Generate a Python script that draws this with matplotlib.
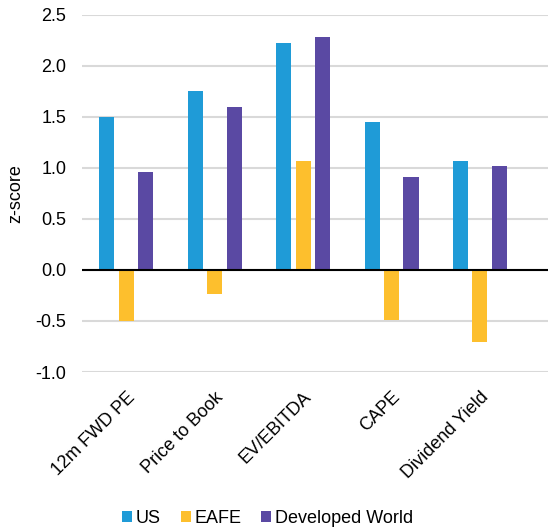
import matplotlib.pyplot as plt
import numpy as np

plt.rcParams['font.family'] = ['Liberation Sans', 'DejaVu Sans']

categories = ["12m FWD PE", "Price to Book", "EV/EBITDA", "CAPE", "Dividend Yield"]
us = [1.50, 1.75, 2.22, 1.45, 1.07]
eafe = [-0.50, -0.24, 1.07, -0.49, -0.71]
dev_world = [0.96, 1.60, 2.28, 0.91, 1.02]

series = [("US", us, "#1f9bd7"),
          ("EAFE", eafe, "#fdbf2d"),
          ("Developed World", dev_world, "#5a49a3")]

fig = plt.figure(figsize=(5.48, 5.31), dpi=100)
ax = fig.add_axes([0.150, 0.2994, 0.85, 0.6726])

x = np.arange(len(categories))
width = 0.17
step = 0.22
for i, (name, vals, color) in enumerate(series):
    ax.bar(x + (i - 1) * step, vals, width, color=color, label=name, zorder=3)

ax.set_ylim(-1.0, 2.5)
ax.set_xlim(-0.5, 4.77)
ax.set_yticks(np.arange(-1.0, 2.51, 0.5))
ax.set_yticklabels([f"{v:.1f}" for v in np.arange(-1.0, 2.51, 0.5)], fontsize=13)
ax.yaxis.grid(True, color="#d9d9d9", linewidth=1.5, zorder=0)
ax.axhline(0, color="black", linewidth=1.5, zorder=4)
ax.tick_params(axis="both", length=0)
ax.tick_params(axis="y", pad=11.5)
for s in ax.spines.values():
    s.set_visible(False)

ax.set_xticks(x)
ax.set_xticklabels(categories, rotation=45, ha="right", rotation_mode="anchor", fontsize=13)
ax.tick_params(axis="x", pad=12)
ax.set_ylabel("z-score", fontsize=13, labelpad=8)

ax.legend(loc="center", bbox_to_anchor=(0.398, -0.41), ncol=3, frameon=False,
          fontsize=13, handlelength=0.55, handleheight=0.55, handletextpad=0.2,
          columnspacing=1.1)

fig.savefig("out.png", dpi=100)
